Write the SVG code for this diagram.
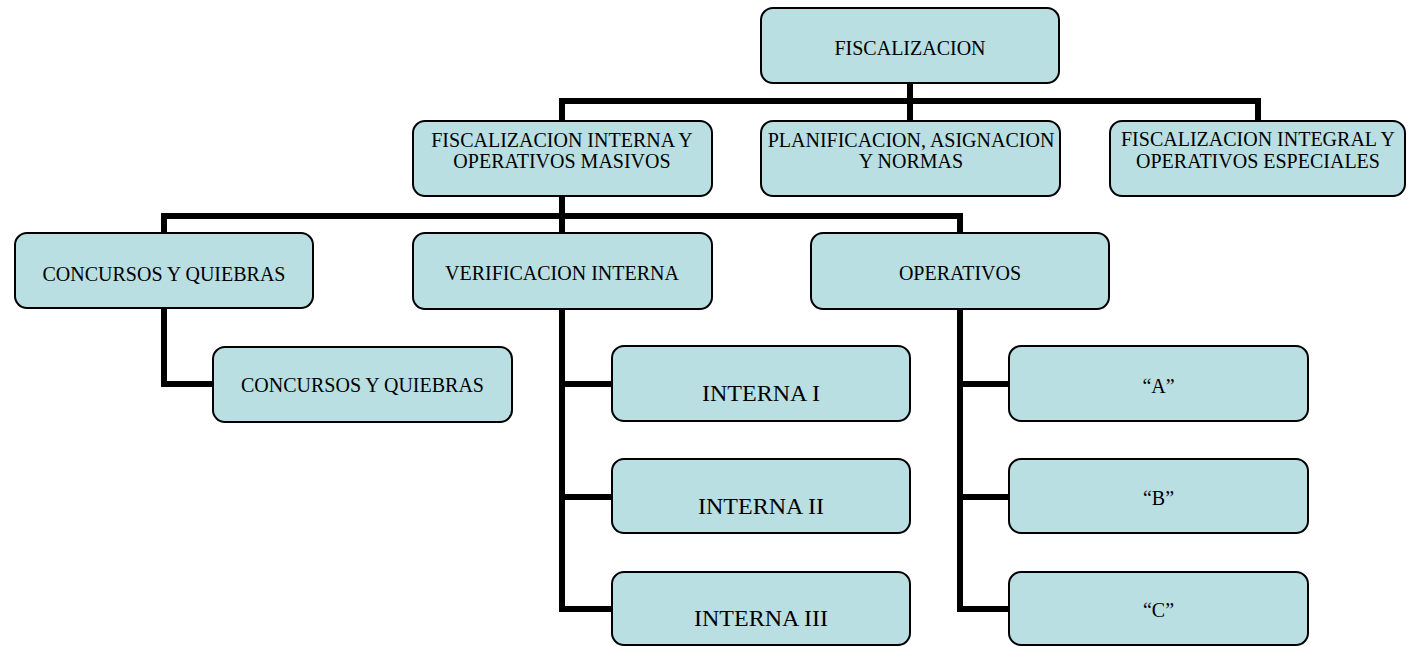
<svg xmlns="http://www.w3.org/2000/svg" width="1410" height="646" viewBox="0 0 1410 646">
<style>
.box{fill:#B9DFE3;stroke:#000;stroke-width:2}
.t{font-family:"Liberation Serif","Times New Roman",serif;fill:#000;text-anchor:middle;font-size:20px}
.big{font-size:24px}
.conn{fill:none;stroke:#000;stroke-width:6;stroke-linejoin:miter;stroke-linecap:butt}
</style>
<rect width="1410" height="646" fill="#fff"/>
<g id="connectors" class="conn">
<path d="M910 83V101M562 121V101H1258V121M910 101V121"/>
<path d="M562 196V216M164 233V216H960V233M562 216V233"/>
<path d="M164 308V384H213"/>
<path d="M562 309V609H612M562 384H612M562 497H612"/>
<path d="M960 309V609H1009M960 384H1009M960 497H1009"/>
</g>
<g id="n-fiscalizacion"><rect class="box" x="761" y="8" width="298" height="75" rx="12"/><text class="t" x="910" y="55">FISCALIZACION</text></g>
<g id="n-interna-masivos"><rect class="box" x="413" y="121" width="299" height="75" rx="12"/><text class="t" x="562" y="147">FISCALIZACION INTERNA Y</text><text class="t" x="562" y="168">OPERATIVOS MASIVOS</text></g>
<g id="n-planificacion"><rect class="box" x="761" y="121" width="299" height="75" rx="12"/><text class="t" x="911" y="147">PLANIFICACION, ASIGNACION</text><text class="t" x="911" y="168">Y NORMAS</text></g>
<g id="n-integral"><rect class="box" x="1110" y="121" width="295" height="75" rx="12"/><text class="t" x="1258" y="146">FISCALIZACION INTEGRAL Y</text><text class="t" x="1258" y="168">OPERATIVOS ESPECIALES</text></g>
<g id="n-concursos"><rect class="box" x="15" y="233" width="298" height="75" rx="12"/><text class="t" x="164" y="281">CONCURSOS Y QUIEBRAS</text></g>
<g id="n-verificacion"><rect class="box" x="413" y="233" width="299" height="76" rx="12"/><text class="t" x="562" y="280">VERIFICACION INTERNA</text></g>
<g id="n-operativos"><rect class="box" x="811" y="233" width="298" height="76" rx="12"/><text class="t" x="960" y="280">OPERATIVOS</text></g>
<g id="n-concursos2"><rect class="box" x="213" y="347" width="299" height="75" rx="12"/><text class="t" x="362.5" y="392">CONCURSOS Y QUIEBRAS</text></g>
<g id="n-interna1"><rect class="box" x="612" y="346" width="298" height="75" rx="12"/><text class="t big" x="761" y="401">INTERNA I</text></g>
<g id="n-interna2"><rect class="box" x="612" y="459" width="298" height="74" rx="12"/><text class="t big" x="761" y="514">INTERNA II</text></g>
<g id="n-interna3"><rect class="box" x="612" y="572" width="298" height="73" rx="12"/><text class="t big" x="761" y="626">INTERNA III</text></g>
<g id="n-a"><rect class="box" x="1009" y="346" width="299" height="75" rx="12"/><text class="t" x="1158.5" y="393">“A”</text></g>
<g id="n-b"><rect class="box" x="1009" y="459" width="299" height="74" rx="12"/><text class="t" x="1158.5" y="505">“B”</text></g>
<g id="n-c"><rect class="box" x="1009" y="572" width="299" height="73" rx="12"/><text class="t" x="1158.5" y="617">“C”</text></g>
</svg>
